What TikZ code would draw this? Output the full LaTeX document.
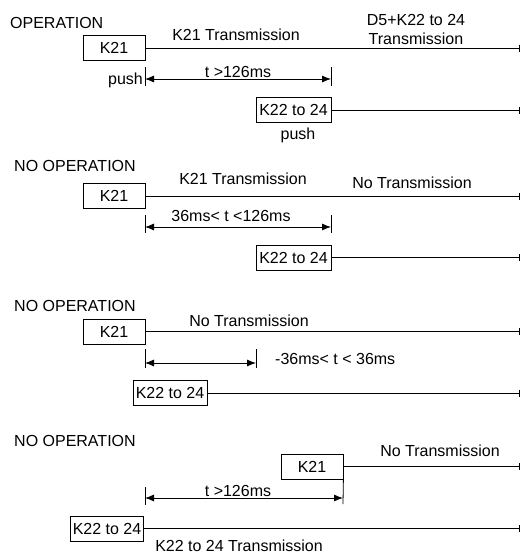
\documentclass[tikz,border=0pt]{standalone}
\usepackage{fontspec}
\setmainfont{Liberation Sans}
\usetikzlibrary{arrows.meta}
\begin{document}
\begin{tikzpicture}[x=1pt,y=-1pt,
  lbl/.style={inner sep=0pt, font=\fontsize{16}{19}\selectfont},
  box/.style={draw, line width=0.8pt, inner sep=0pt, minimum height=25pt, font=\fontsize{16}{19}\selectfont},
  sig/.style={line width=0.8pt, -{Bar[width=7pt,line width=1.2pt]}},
  dim/.style={line width=0.8pt, {Latex[length=9pt,width=7pt]}-{Latex[length=9pt,width=7pt]}},
  tickline/.style={line width=0.8pt}]
\useasboundingbox (0,0) rectangle (521,555);
% ---------- Panel 1 ----------
\node[lbl, anchor=west] (op1) at (10,23) {OPERATION};
\node[box, minimum width=62pt] (a1) at (114,48) {K21};
\coordinate (a1e) at (520,48);
\draw[sig] (a1.east) -- (a1e);
\node[lbl] (tx1) at (236,35) {K21 Transmission};
\node[lbl, align=center] (tx1b) at (416,29) {D5+K22 to 24\\Transmission};
\coordinate (t1a) at (145,67); \coordinate (t1b) at (145,86);
\coordinate (t1c) at (331,67); \coordinate (t1d) at (331,86);
\draw[tickline] (t1a) -- (t1b);
\draw[tickline] (t1c) -- (t1d);
\coordinate (d1a) at (145,79); \coordinate (d1b) at (331,79);
\draw[dim] (d1a) -- (d1b);
\node[lbl, anchor=east] (p1) at (143,80) {push};
\node[lbl] (tm1) at (238,72) {t >126ms};
\node[box, minimum width=75pt] (b1) at (293.5,110) {K22 to 24};
\coordinate (b1e) at (520,110);
\draw[sig] (b1.east) -- (b1e);
\node[lbl] (p1b) at (298,135) {push};
% ---------- Panel 2 ----------
\node[lbl, anchor=west] (op2) at (14,166) {NO OPERATION};
\node[box, minimum width=62pt] (a2) at (114,196) {K21};
\coordinate (a2e) at (520,196);
\draw[sig] (a2.east) -- (a2e);
\node[lbl] (tx2) at (243,179) {K21 Transmission};
\node[lbl] (tx2b) at (412,183) {No Transmission};
\coordinate (t2a) at (145,215); \coordinate (t2b) at (145,233);
\coordinate (t2c) at (331,215); \coordinate (t2d) at (331,233);
\draw[tickline] (t2a) -- (t2b);
\draw[tickline] (t2c) -- (t2d);
\coordinate (d2a) at (145,227); \coordinate (d2b) at (331,227);
\draw[dim] (d2a) -- (d2b);
\node[lbl] (tm2) at (231,216) {36ms< t <126ms};
\node[box, minimum width=75pt] (b2) at (293.5,257.5) {K22 to 24};
\coordinate (b2e) at (520,257.5);
\draw[sig] (b2.east) -- (b2e);
% ---------- Panel 3 ----------
\node[lbl, anchor=west] (op3) at (14,306) {NO OPERATION};
\node[box, minimum width=62pt] (a3) at (114,331.5) {K21};
\coordinate (a3e) at (520,331.5);
\draw[sig] (a3.east) -- (a3e);
\node[lbl] (tx3) at (249,321) {No Transmission};
\coordinate (t3a) at (145,349); \coordinate (t3b) at (145,368);
\coordinate (t3c) at (256,349); \coordinate (t3d) at (256,368);
\draw[tickline] (t3a) -- (t3b);
\draw[tickline] (t3c) -- (t3d);
\coordinate (d3a) at (145,363); \coordinate (d3b) at (256,363);
\draw[dim] (d3a) -- (d3b);
\node[lbl, anchor=west] (tm3) at (275,359) {-36ms< t < 36ms};
\node[box, minimum width=74pt] (b3) at (170,393) {K22 to 24};
\coordinate (b3e) at (520,393);
\draw[sig] (b3.east) -- (b3e);
% ---------- Panel 4 ----------
\node[lbl, anchor=west] (op4) at (14,441) {NO OPERATION};
\node[box, minimum width=62pt] (a4) at (312,466.5) {K21};
\coordinate (a4e) at (520,466.5);
\draw[sig] (a4.east) -- (a4e);
\node[lbl] (tx4) at (440,451) {No Transmission};
\coordinate (t4a) at (145,487); \coordinate (t4b) at (145,505);
\coordinate (t4d) at (343,504);
\draw[tickline] (t4a) -- (t4b);
\draw[tickline] (a4.south east) -- (t4d);
\coordinate (d4a) at (145,498); \coordinate (d4b) at (343,498);
\draw[dim] (d4a) -- (d4b);
\node[lbl] (tm4) at (238,491) {t >126ms};
\node[box, minimum width=73pt] (b4) at (107,528.5) {K22 to 24};
\coordinate (b4e) at (520,528.5);
\draw[sig] (b4.east) -- (b4e);
\node[lbl] (tx4b) at (239,545.5) {K22 to 24 Transmission};
\end{tikzpicture}
\end{document}
